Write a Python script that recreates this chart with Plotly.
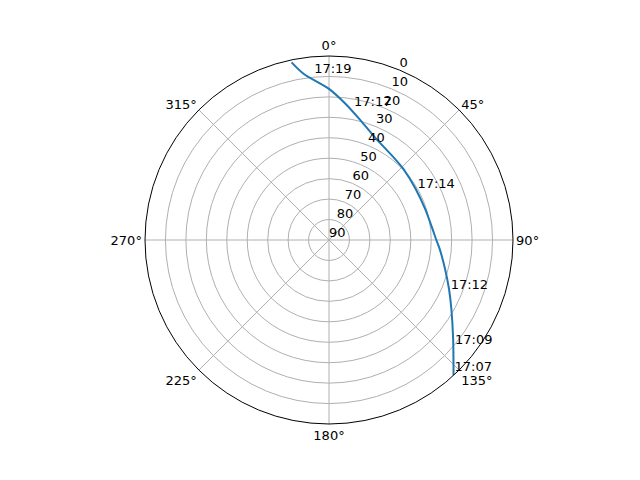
import plotly.graph_objects as go

# satellite track: azimuth (deg, clockwise from north) and elevation (deg)
track_az = [137.4, 128.6, 119.4, 112.2, 104.0, 94.6, 90.0, 83.9, 72.1, 59.5, 46.3, 38.6,
            24.1, 14.9, 7.0, 0.0, -8.6, -11.9]
track_el = [0, 12.3, 21.3, 26.6, 31.5, 35.7, 37.5, 39.1, 40.6, 40.8, 39.7, 38.8,
            35.0, 29.6, 23.0, 16.1, 7.9, 1.2]

# time labels along the pass
label_times = ["17:07", "17:09", "17:12", "17:14", "17:17", "17:19"]
label_az = [137.0, 130.3, 113.3, 60.9, 10.8, -5.2]
label_el = [0, 9.2, 25.2, 40.5, 24.8, 9.8]

angle_ticks = [0, 45, 90, 135, 180, 225, 270, 315]
radial_ticks = [0, 10, 20, 30, 40, 50, 60, 70, 80, 90]

fig = go.Figure()
fig.add_trace(go.Scatterpolar(
    r=track_el, theta=track_az, mode="lines",
    line=dict(color="#1f77b4", width=2, shape="spline", smoothing=0.8),
    showlegend=False,
))
fig.add_trace(go.Scatterpolar(
    r=label_el, theta=label_az, mode="text", text=label_times,
    textposition="top right", textfont=dict(size=13, color="black"),
    showlegend=False,
))
# radial tick labels, matplotlib style at 22.5 deg
fig.add_trace(go.Scatterpolar(
    r=radial_ticks, theta=[22.5] * len(radial_ticks), mode="text",
    text=[str(v) for v in radial_ticks],
    textposition="top right", textfont=dict(size=13, color="black"),
    showlegend=False, hoverinfo="skip",
))

fig.update_layout(
    width=640, height=480,
    margin=dict(l=0, r=0, t=0, b=0),
    paper_bgcolor="white",
    font=dict(family="DejaVu Sans", size=13, color="black"),
    polar=dict(
        domain=dict(x=[137 / 640, 505 / 640], y=[1 - 416 / 480, 1 - 48 / 480]),
        bgcolor="white",
        angularaxis=dict(
            rotation=90, direction="clockwise",
            tickvals=angle_ticks, ticktext=[f"{a}°" for a in angle_ticks],
            ticks="", showline=True, linecolor="black", linewidth=1,
            gridcolor="#b0b0b0", gridwidth=0.8,
        ),
        radialaxis=dict(
            range=[90, 0], tickvals=radial_ticks, showticklabels=False,
            angle=67.5, ticks="", showline=False,
            gridcolor="#b0b0b0", gridwidth=0.8,
        ),
    ),
)

fig.write_html("out.html")
